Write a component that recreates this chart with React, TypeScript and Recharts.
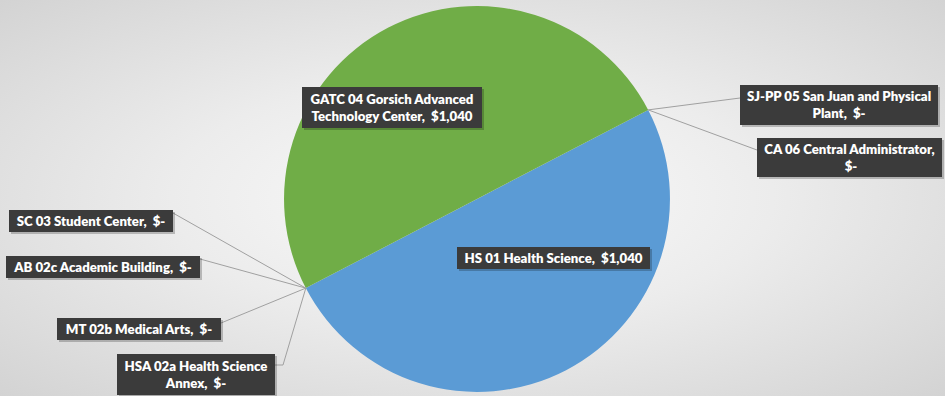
import React from 'react';
import { PieChart, Pie, Cell } from 'recharts';

const categories = [
  'HS 01 Health Science',
  'HSA 02a Health Science Annex',
  'MT 02b Medical Arts',
  'AB 02c Academic Building',
  'SC 03 Student Center',
  'GATC 04 Gorsich Advanced Technology Center',
  'SJ-PP 05 San Juan and Physical Plant',
  'CA 06 Central Administrator',
];
const costs = [1040, 0, 0, 0, 0, 1040, 0, 0];
const valueLabels = ['$1,040', '$-', '$-', '$-', '$-', '$1,040', '$-', '$-'];
const sliceColors = ['#5B9BD5', '#A5A5A5', '#FFC000', '#4472C4', '#ED7D31', '#70AD47', '#264478', '#9E480E'];

const data = categories.map((name, i) => ({ name, value: costs[i], valueLabel: valueLabels[i] }));

// label box layout relative to pie centre: dx, dy, w, h, words on first line, leader side
type Layout = { dx: number; dy: number; w: number; h: number; firstWords: number; side: 'none' | 'left' | 'right'; ly: number; bend?: boolean };
const labelLayout: Layout[] = [
  { dx: -20, dy: 48, w: 193, h: 22, firstWords: 99, side: 'none', ly: 0 },
  { dx: -360, dy: 155, w: 158, h: 41, firstWords: 4, side: 'right', ly: 11, bend: true },
  { dx: -420, dy: 119, w: 164, h: 22, firstWords: 99, side: 'right', ly: 5 },
  { dx: -471, dy: 57, w: 194, h: 22, firstWords: 99, side: 'right', ly: 3 },
  { dx: -468, dy: 11, w: 164, h: 22, firstWords: 99, side: 'right', ly: 3 },
  { dx: -175, dy: -112, w: 180, h: 41, firstWords: 4, side: 'none', ly: 0 },
  { dx: 263, dy: -114, w: 198, h: 40, firstWords: 6, side: 'left', ly: 13 },
  { dx: 280, dy: -61, w: 185, h: 39, firstWords: 4, side: 'left', ly: 12 },
];

const RAD = Math.PI / 180;

const renderLabel = (props: any) => {
  const { cx, cy, midAngle, outerRadius, index } = props;
  const L = labelLayout[index];
  const d = data[index];
  const ax = cx + outerRadius * Math.cos(-midAngle * RAD);
  const ay = cy + outerRadius * Math.sin(-midAngle * RAD);
  const bx = cx + L.dx;
  const by = cy + L.dy;
  const words = `${d.name},  ${d.valueLabel}`.split(' ');
  const first = words.slice(0, L.firstWords).join(' ');
  const second = words.slice(L.firstWords).join(' ');
  const lines = second ? [first, second] : [first];
  let line = null;
  if (L.side === 'right') {
    const ex = bx + L.w;
    const ey = by + L.ly;
    const pts = L.bend ? `${ax},${ay} ${ex + 8},${ey} ${ex},${ey}` : `${ax},${ay} ${ex},${ey}`;
    line = <polyline points={pts} fill="none" stroke="#a0a0a0" strokeWidth={1} />;
  } else if (L.side === 'left') {
    line = <polyline points={`${ax},${ay} ${bx},${by + L.ly}`} fill="none" stroke="#a0a0a0" strokeWidth={1} />;
  }
  const lineH = 17;
  const startY = by + L.h / 2 - ((lines.length - 1) * lineH) / 2 + 4.8;
  return (
    <g key={`lbl-${index}`}>
      {line}
      <rect x={bx + 2} y={by + 2} width={L.w} height={L.h} fill="rgba(0,0,0,0.22)" />
      <rect x={bx} y={by} width={L.w} height={L.h} fill="#3b3b3b" />
      <text
        x={bx + L.w / 2}
        textAnchor="middle"
        fill="#ffffff"
        fontFamily="Lato, 'Open Sans', sans-serif"
        fontWeight={800}
        fontSize={13.2}
        style={{ whiteSpace: 'pre' }}
      >
        {lines.map((t, i) => (
          <tspan key={i} x={bx + L.w / 2} y={startY + i * lineH}>
            {t}
          </tspan>
        ))}
      </text>
    </g>
  );
};

export default function App() {
  return (
    <div
      style={{
        position: 'absolute',
        left: 0,
        top: 0,
        width: 945,
        height: 396,
        background: 'radial-gradient(ellipse at 50% 50%, #fbfbfb 0%, #ececec 45%, #d3d3d3 100%)',
      }}
    >
      <PieChart width={945} height={396} margin={{ top: 0, right: 0, bottom: 0, left: 0 }}>
        <Pie
          data={data}
          dataKey="value"
          nameKey="name"
          cx={477}
          cy={199}
          outerRadius={193}
          startAngle={27.5}
          endAngle={-332.5}
          stroke="none"
          isAnimationActive={false}
          labelLine={false}
          label={renderLabel}
        >
          {data.map((_, i) => (
            <Cell key={i} fill={sliceColors[i]} stroke="none" />
          ))}
        </Pie>
      </PieChart>
    </div>
  );
}
